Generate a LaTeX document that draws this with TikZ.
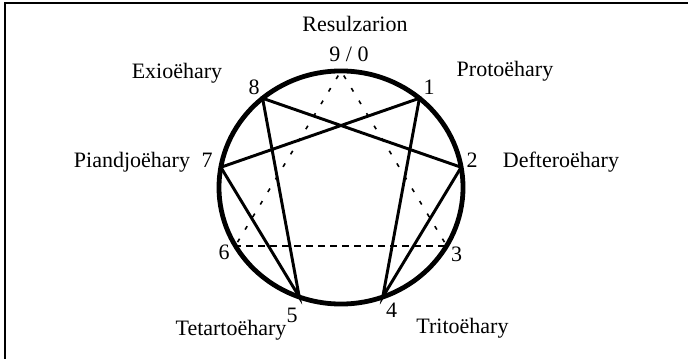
\documentclass[tikz,border=0pt]{standalone}
\usepackage{fontspec}
\setmainfont{Liberation Serif}
\usetikzlibrary{positioning}
\tikzset{
  ring/.style={
    line width=3.6pt,
  },
  chord/.style={
    line width=2.2pt,
    line join=miter,
  },
  triad/.style={
    line width=1.2pt,
    dash pattern=on 3pt off 8pt,
    dash phase=7pt,
  },
  baseline/.style={
    line width=1.4pt,
    dash pattern=on 5pt off 4pt,
    dash phase=-8pt,
  },
  frameline/.style={
    line width=1.5pt,
  },
  typelabel/.style={
    anchor=base,
    inner sep=0pt,
    font=\fontsize{16.5}{19}\selectfont,
  },
  pointlabel/.style={
    anchor=base,
    inner sep=0pt,
    font=\fontsize{16.5}{19}\selectfont,
  }
}

\begin{document}
\begin{tikzpicture}[x=0.75pt,y=-0.75pt]
  \useasboundingbox (0,0) rectangle (688,359);

  % cropped frame
  \coordinate (frametl) at (5,3.5);
  \coordinate (frametr) at (688,3.5);
  \coordinate (framebl) at (5,359);
  \draw[frameline] (frametr) -- (frametl) -- (framebl);

  % ring and its nine points
  \coordinate (ctr) at (341,187.5);
  \draw[ring] (ctr) ellipse [x radius=91.5pt, y radius=87.4pt];
  \foreach \i in {0,...,8}
    \coordinate (p\i) at ({341+122*sin(40*\i)},{187.5-116.5*cos(40*\i)});

  \draw[chord] (p1) -- (p4) -- (p2) -- (p8) -- (p5) -- (p7) -- cycle;
  \draw[triad] (p0) -- (p6);
  \draw[triad] (p0) -- (p3);
  \draw[baseline] (p6) -- (p3);

  % numbers
  \node[pointlabel] (n0) at (349,62) {9 / 0};
  \node[pointlabel] (n1) at (429,95) {1};
  \node[pointlabel] (n2) at (472,168) {2};
  \node[pointlabel] (n3) at (456.5,262) {3};
  \node[pointlabel] (n4) at (391.5,317) {4};
  \node[pointlabel] (n5) at (292,322) {5};
  \node[pointlabel] (n6) at (224,260) {6};
  \node[pointlabel] (n7) at (207,168) {7};
  \node[pointlabel] (n8) at (254,95) {8};

  % names
  \node[typelabel] (resul) at (355,32) {Resulzarion};
  \node[typelabel] (proto) at (505,77) {Protoëhary};
  \node[typelabel] (deft) at (561,168) {Defteroëhary};
  \node[typelabel] (trito) at (462.5,334) {Tritoëhary};
  \node[typelabel] (tetar) at (231,335) {Tetartoëhary};
  \node[typelabel] (piand) at (132,168) {Piandjoëhary};
  \node[typelabel] (exio) at (177,79) {Exioëhary};
\end{tikzpicture}
\end{document}
